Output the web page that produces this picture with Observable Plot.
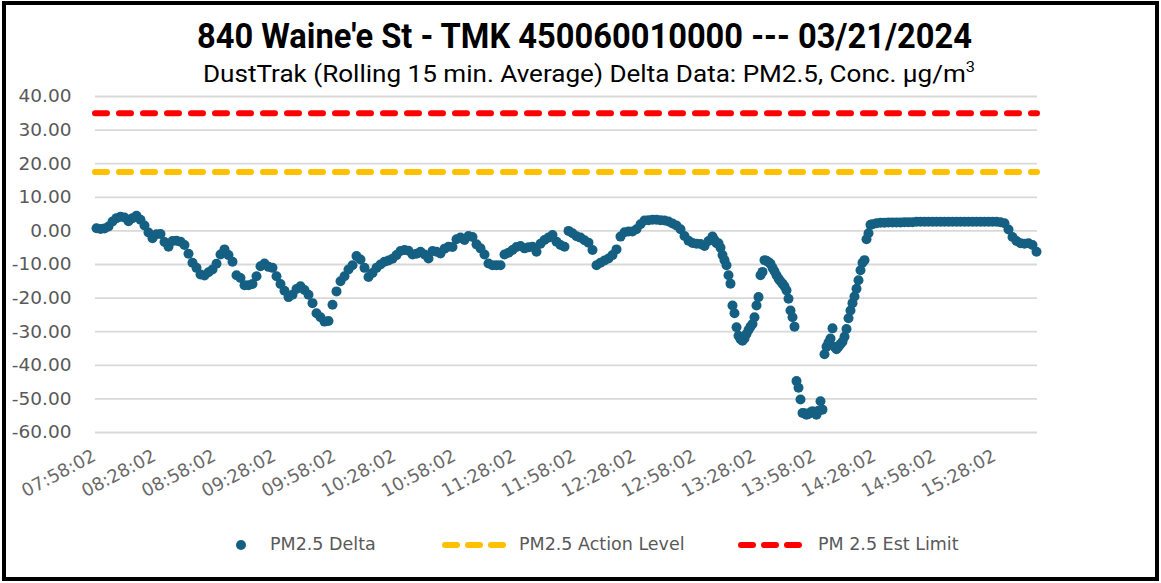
<!DOCTYPE html>
<html><head><meta charset="utf-8">
<script src="https://cdn.jsdelivr.net/npm/d3@7"></script>
<script src="https://cdn.jsdelivr.net/npm/@observablehq/plot@0.6"></script>
<style>
html,body{margin:0;padding:0;background:#fff;overflow:hidden;}
#page{position:relative;width:1161px;height:583px;background:#fff;}
#frame{position:absolute;left:2px;top:1px;width:1157px;height:580px;border:4px solid #000;box-sizing:border-box;pointer-events:none;}
.ttl{position:absolute;white-space:nowrap;color:#000;transform-origin:0 0;}
#title{font-family:"Liberation Sans Narrow","Roboto","Liberation Sans",sans-serif;font-weight:bold;font-size:35px;line-height:38px;}
#subtitle{font-family:"Liberation Sans Narrow","Roboto","Liberation Sans",sans-serif;font-size:24px;line-height:28px;}
#subtitle sup{font-size:15px;vertical-align:0;position:relative;top:-10px;}
#chart{position:absolute;left:0;top:88px;}
.lg{position:absolute;font-family:"DejaVu Sans",sans-serif;font-size:17.5px;color:#595959;white-space:nowrap;line-height:22px;}
</style></head>
<body><div id="page">
<div id="title" class="ttl">840 Waine'e St - TMK 450060010000 --- 03/21/2024</div>
<div id="subtitle" class="ttl">DustTrak (Rolling 15 min. Average) Delta Data: PM2.5, Conc. µg/m<sup>3</sup></div>
<div id="chart"></div>
<div id="legend"></div>
<div id="frame"></div>
</div>
<script>
// ---- data ----
const startTime = "2024-03-21 07:58:02";
const xTickLabels = ["07:58:02","08:28:02","08:58:02","09:28:02","09:58:02","10:28:02","10:58:02","11:28:02","11:58:02","12:28:02","12:58:02","13:28:02","13:58:02","14:28:02","14:58:02","15:28:02"];
const yTicks = [-60,-50,-40,-30,-20,-10,0,10,20,30,40];
const actionLevel = 17.5;
const estLimit = 35;
const seriesNames = ["PM2.5 Delta","PM2.5 Action Level","PM 2.5 Est Limit"];
// [minutes after start, PM2.5 delta]
const pm25Delta = [
[0,0.8],[2,0.6],[4,0.7],[6,1.3],[8,2.8],[10,3.8],[12,4.2],[14,4.0],[16,2.9],[18,3.8],
[20,4.5],[22,3.3],[24,1.6],[26,-0.5],[28,-2.2],[30,-1.0],[32,-0.9],[34,-3.3],[36,-4.7],[38,-3.0],
[40,-2.9],[42,-3.2],[44,-4.2],[46,-6.8],[48,-9.5],[50,-11.0],[52,-13.0],[54,-13.3],[56,-12.3],[58,-11.5],
[60,-9.8],[62,-7.0],[64,-5.5],[66,-7.2],[68,-9.2],[70,-13.2],[72,-14.0],[74,-16.2],[76,-16.2],[78,-15.8],
[80,-13.5],[82,-10.5],[84,-9.7],[86,-10.7],[88,-11.0],[90,-13.5],[92,-15.8],[94,-17.8],[96,-19.7],[98,-19.0],
[100,-17.3],[102,-16.5],[104,-17.6],[106,-19.0],[108,-21.5],[110,-24.5],[112,-25.7],[114,-27.0],[116,-26.8],[118,-22.0],
[120,-18.0],[122,-15.0],[124,-13.5],[126,-11.5],[128,-10.2],[130,-7.5],[132,-8.5],[134,-11.0],[136,-13.7],[138,-12.5],
[140,-11.0],[142,-10.0],[144,-9.2],[146,-8.8],[148,-8.3],[150,-7.2],[152,-6.0],[154,-5.7],[156,-5.9],[158,-7.0],
[160,-6.8],[162,-6.2],[164,-7.0],[166,-8.2],[168,-6.0],[170,-6.2],[172,-6.7],[174,-5.3],[176,-4.7],[178,-4.8],
[180,-2.5],[182,-2.0],[184,-2.7],[186,-1.5],[188,-1.8],[190,-4.0],[192,-5.2],[194,-7.0],[196,-9.7],[198,-10.2],
[200,-10.2],[202,-10.2],[204,-7.0],[206,-6.5],[208,-5.7],[210,-4.8],[212,-4.5],[214,-5.2],[216,-4.9],[218,-4.7],
[220,-6.2],[222,-3.8],[224,-2.7],[226,-2.0],[228,-1.2],[230,-3.2],[232,-4.2],[234,-4.7],[236,0.0],[238,-0.7],
[240,-1.6],[242,-2.0],[244,-2.8],[246,-3.5],[248,-5.7],[250,-10.2],[252,-9.5],[254,-8.8],[256,-8.2],[258,-7.2],
[260,-5.5],[262,-1.7],[264,-0.4],[266,-0.2],[268,-0.2],[270,0.5],[272,2.0],[274,3.1],[276,3.2],[278,3.3],
[280,3.3],[282,3.2],[284,3.1],[286,2.8],[288,2.2],[290,1.6],[292,0.5],[294,-1.5],[296,-2.9],[298,-3.6],
[300,-3.8],[302,-3.9],[304,-4.5],[306,-3.0],[308,-1.7],[309,-2.7],
[310,-3.7],[311,-3.7],[312,-5.0],[313,-7.2],[314,-8.7],[315,-10.2],[316,-13.2],[317,-15.7],[318,-22.2],[319,-24.5],
[320,-28.7],[321,-31.2],[322,-32.2],[323,-32.7],[324,-32.0],[325,-30.7],[326,-29.5],[327,-28.5],[328,-27.7],[329,-25.7],
[330,-22.2],[331,-19.7],[332,-13.2],[333,-12.2],[334,-8.7],[335,-8.9],[336,-9.3],[337,-9.8],[338,-11.0],[339,-12.0],
[340,-13.2],[341,-14.2],[342,-15.0],[343,-15.7],[344,-16.5],[345,-17.7],[346,-20.2],[347,-23.7],[348,-25.7],[349,-28.5],
[350,-44.7],[351,-46.7],[352,-50.2],[353,-54.2],[354,-54.3],[355,-54.7],[356,-54.5],[357,-54.0],[358,-53.7],[359,-54.2],
[360,-54.7],[361,-53.5],[362,-50.7],[363,-53.2],[364,-36.7],[365,-34.5],[366,-33.2],[367,-32.0],[368,-29.0],[369,-34.5],
[370,-35.2],[371,-34.5],[372,-33.7],[373,-33.0],[374,-31.5],[375,-29.2],[376,-26.0],[377,-23.7],[378,-21.5],[379,-19.5],
[380,-17.2],[381,-14.7],[382,-11.7],[383,-9.5],[384,-8.7],[385,-2.5],[386,-0.7],[387,1.8],[388,2.0],
[390,2.3],[392,2.4],[394,2.4],[396,2.5],[398,2.5],[400,2.5],[402,2.5],[404,2.6],[406,2.6],[408,2.6],
[410,2.7],[412,2.7],[414,2.7],[416,2.7],[418,2.7],[420,2.7],[422,2.7],[424,2.7],[426,2.7],[428,2.7],
[430,2.7],[432,2.7],[434,2.7],[436,2.7],[438,2.7],[440,2.7],[442,2.7],[444,2.7],[446,2.7],[448,2.7],
[450,2.7],[452,2.6],[454,2.3],[456,0.4],[458,-1.8],[460,-3.0],[462,-3.7],[464,-3.8],[466,-3.7],[468,-4.2],[470,-6.2]
];

// ---- colours ----
const deltaColor = "#156082", actionColor = "#FFC000", limitColor = "#FF0000";

const parse = d3.utcParse("%Y-%m-%d %H:%M:%S");
const t0 = parse(startTime);
const tm = m => new Date(+t0 + m * 60000);
const day = startTime.slice(0, 10);
const xTicks = xTickLabels.map(s => parse(day + " " + s));
const data = pm25Delta.map(([m, v]) => ({time: tm(m), value: v}));

const chart = Plot.plot({
  width: 1161, height: 424,
  marginLeft: 95, marginRight: 124, marginTop: 8, marginBottom: 80,
  style: {fontFamily: "DejaVu Sans, sans-serif", background: "transparent", overflow: "visible"},
  x: {type: "utc", domain: [tm(-0.5), tm(470.5)]},
  y: {domain: [-60, 40]},
  marks: [
    Plot.gridY(yTicks, {stroke: "#d9d9d9", strokeOpacity: 1, strokeWidth: 1.8}),
    Plot.axisY(yTicks, {tickFormat: d => d.toFixed(2), tickSize: 0, tickPadding: 24, fontSize: 18.5, color: "#595959", label: null}),
    Plot.axisX(xTicks, {tickFormat: d3.utcFormat("%H:%M:%S"), tickRotate: -28, tickSize: 0, tickPadding: 22, fontSize: 18, color: "#6a6a6a", label: null, dx: -2}),
    Plot.dot(data, {x: "time", y: "value", r: 5, fill: deltaColor}),
    Plot.ruleY([actionLevel], {stroke: actionColor, strokeWidth: 6, strokeDasharray: "12,12", strokeLinecap: "round"}),
    Plot.ruleY([estLimit], {stroke: limitColor, strokeWidth: 6, strokeDasharray: "12,12", strokeLinecap: "round"})
  ]
});
document.getElementById("chart").appendChild(chart);

// fit title / subtitle to measured extents
function fit(id, left, width, top) {
  const el = document.getElementById(id);
  el.style.left = left + "px";
  el.style.top = top + "px";
  const w = el.getBoundingClientRect().width;
  el.style.transform = `scaleX(${width / w})`;
}
fit("title", 197, 775, 18);
fit("subtitle", 203, 772, 60);

// legend
const lg = document.getElementById("legend");
const ly = 545;
function dash(x, color) {
  return `<svg class="lg" style="left:${x}px;top:${ly-6}px" width="64" height="12"><line x1="3" x2="61" y1="6" y2="6" stroke="${color}" stroke-width="6" stroke-dasharray="12,11" stroke-linecap="round"/></svg>`;
}
lg.innerHTML =
  `<svg class="lg" style="left:235px;top:${ly-6}px" width="12" height="12"><circle cx="6" cy="6" r="5" fill="${deltaColor}"/></svg>` +
  `<div class="lg" style="left:270px;top:${ly-12}px">${seriesNames[0]}</div>` +
  dash(442, actionColor) +
  `<div class="lg" style="left:519px;top:${ly-12}px">${seriesNames[1]}</div>` +
  dash(738, limitColor) +
  `<div class="lg" style="left:818px;top:${ly-12}px">${seriesNames[2]}</div>`;
</script>
</body></html>
